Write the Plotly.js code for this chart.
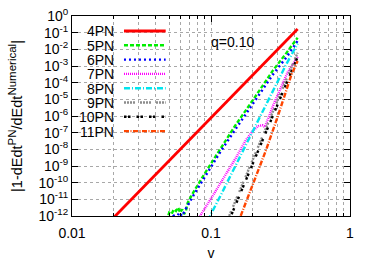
<!DOCTYPE html>
<html><head><meta charset="utf-8">
<script src="https://cdn.plot.ly/plotly-3.0.1.min.js"></script>
<style>html,body{margin:0;padding:0;background:#fff}#chart{width:376px;height:263px}</style>
</head><body><div id="chart"></div>
<script>
// ---- data ----
const seriesNames = ['4PN','5PN','6PN','7PN','8PN','9PN','10PN','11PN'];

const v4PN  = [0.01, 0.02, 0.04, 0.07, 0.1, 0.15, 0.2, 0.3, 0.42];
const err4PN = [2.2e-15, 8.3e-13, 3.1e-10, 3.7e-8, 7.8e-7, 2.5e-5, 3.0e-4, 9.3e-3, 0.166];

const v5PN  = [0.048, 0.05, 0.052, 0.054, 0.056, 0.058, 0.06, 0.062, 0.064, 0.066, 0.068, 0.075, 0.09, 0.12, 0.15, 0.2, 0.28, 0.35, 0.42];
const err5PN = [5.0e-13, 1.6e-12, 1.3e-12, 2.5e-12, 2.0e-12, 3.2e-12, 1.6e-12, 2.5e-12, 1.3e-12, 2.0e-12, 6.3e-12, 2.8e-11, 3.5e-10, 1.6e-8, 2.8e-7, 8.9e-6, 5.6e-4, 6.3e-3, 5.0e-2];

const v6PN  = [0.05, 0.053, 0.056, 0.059, 0.062, 0.066, 0.075, 0.09, 0.12, 0.15, 0.2, 0.28, 0.35, 0.42];
const err6PN = [4.0e-13, 1.3e-12, 6.3e-13, 1.6e-12, 1.0e-12, 2.8e-12, 1.8e-11, 2.2e-10, 1.0e-8, 1.6e-7, 5.0e-6, 3.2e-4, 3.5e-3, 3.2e-2];

const v7PN  = [0.08, 0.084, 0.1, 0.12, 0.15, 0.178, 0.2, 0.219, 0.234, 0.243, 0.251, 0.282, 0.316, 0.355, 0.42];
const err7PN = [3.2e-13, 1.1e-12, 1.1e-11, 1.3e-10, 2.8e-9, 3.5e-8, 1.3e-7, 2.5e-7, 2.8e-7, 2.2e-7, 4.0e-7, 5.0e-6, 5.0e-5, 4.0e-4, 3.5e-3];

const v8PN  = [0.095, 0.1, 0.12, 0.15, 0.2, 0.25, 0.3, 0.35, 0.42];
const err8PN = [5.0e-13, 1.3e-12, 2.5e-11, 1.0e-9, 1.3e-7, 5.0e-6, 1.1e-4, 1.4e-3, 2.2e-2];

const v9PN  = [0.13, 0.14, 0.16, 0.2, 0.25, 0.3, 0.35, 0.42];
const err9PN = [4.7e-13, 2.0e-12, 2.9e-11, 2.5e-9, 2.1e-7, 7.8e-6, 1.7e-4, 6.3e-3];

const v10PN  = [0.13, 0.14, 0.16, 0.2, 0.25, 0.3, 0.35, 0.42];
const err10PN = [2.6e-13, 1.1e-12, 1.6e-11, 1.4e-9, 1.2e-7, 4.4e-6, 9.5e-5, 3.5e-3];

const v11PN  = [0.155, 0.16, 0.17, 0.2, 0.25, 0.3, 0.33, 0.38, 0.42];
const err11PN = [3.2e-13, 6.3e-13, 2.5e-12, 7.9e-11, 1.0e-8, 7.9e-7, 1.0e-5, 3.2e-4, 2.0e-3];

const xTickVals = [0.01, 0.1, 1];
const xTickText = ['0.01', '0.1', '1'];
const xMinorVals = [0.02,0.03,0.04,0.05,0.06,0.07,0.08,0.09,0.2,0.3,0.4,0.5,0.6,0.7,0.8,0.9];
const yTickVals = [1e0,1e-1,1e-2,1e-3,1e-4,1e-5,1e-6,1e-7,1e-8,1e-9,1e-10,1e-11,1e-12];
const yTickText = ['10<sup>0</sup>','10<sup>-1</sup>','10<sup>-2</sup>','10<sup>-3</sup>','10<sup>-4</sup>','10<sup>-5</sup>','10<sup>-6</sup>','10<sup>-7</sup>','10<sup>-8</sup>','10<sup>-9</sup>','10<sup>-10</sup>','10<sup>-11</sup>','10<sup>-12</sup>'];
const yTitle = '|1-dEdt<sup><span style="font-size:11.5px">PN</span></sup>/dEdt<sup><span style="font-size:11.5px">Numerical</span></sup>|';
const annotationText = 'q=0.10';

// ---- styles ----
const xs = [v4PN, v5PN, v6PN, v7PN, v8PN, v9PN, v10PN, v11PN];
const ys = [err4PN, err5PN, err6PN, err7PN, err8PN, err9PN, err10PN, err11PN];
const colors = ['#ff0000','#00ee00','#0000ff','#ff00ff','#00e5ee','#8c8c8c','#000000','#ff4500'];
const dashes = ['solid','4px,2px','2px,3px','1px,1px','6px,2px,1px,2px','2px,1px,2px,1px,2px,1px,2px,5px','2.5px,1.5px,2.5px,6px','5px,1.5px,1px,1.5px'];
const widths = [2.8, 2.4, 2.4, 2.4, 2.4, 2.4, 2.4, 2.4];

const FONT = 'Liberation Sans, Arial, Helvetica, sans-serif';

const traces = seriesNames.map((n, i) => ({
  x: xs[i], y: ys[i], name: n, type: 'scatter', mode: 'lines',
  line: {color: colors[i], dash: dashes[i], width: widths[i]},
  showlegend: false, hoverinfo: 'skip'
}));

// manual gnuplot-style key: label first, then line sample
const keyTop = 0.925, keyStep = 0.0715;
const shapes = [], annotations = [];
seriesNames.forEach((n, i) => {
  const yy = keyTop - i * keyStep;
  annotations.push({xref:'paper', yref:'paper', x:0.155, y:yy, text:n, showarrow:false,
    xanchor:'right', yanchor:'middle', height:13, borderpad:0,
    font:{family:FONT, size:14, color:'#000'}});
  shapes.push({type:'line', xref:'paper', yref:'paper', x0:0.187, x1:0.337, y0:yy, y1:yy,
    line:{color:colors[i], dash:dashes[i], width:widths[i]}});
});
annotations.push({xref:'paper', yref:'paper', x:0.576, y:0.87, text:annotationText, showarrow:false,
  xanchor:'center', yanchor:'middle', borderpad:0, font:{family:FONT, size:14, color:'#000'}});

const gridStyle = {showgrid:true, gridcolor:'#a8a8a8', gridwidth:1, griddash:'dot'};

const layout = {
  width: 376, height: 263,
  margin: {l:72, r:26, t:16, b:47},
  paper_bgcolor:'#fff', plot_bgcolor:'#fff',
  font: {family: FONT, size: 14, color:'#000'},
  showlegend: false,
  xaxis: Object.assign({
    type:'log', range:[-2, 0], tickmode:'array', tickvals:xTickVals, ticktext:xTickText,
    ticks:'inside', ticklen:6, tickwidth:1, tickcolor:'#000',
    showline:true, linecolor:'#000', linewidth:1, mirror:'allticks', zeroline:false,
    tickfont:{family:FONT, size:14}, ticklabelstandoff: 4,
    title:{text:'v', font:{family:FONT, size:14}, standoff:8},
    minor:{tickmode:'array', tickvals:xMinorVals, ticks:'inside', ticklen:3, tickcolor:'#000',
      showgrid:true, gridcolor:'#a8a8a8', gridwidth:1, griddash:'dot'}
  }, gridStyle),
  yaxis: Object.assign({
    type:'log', range:[-12, 0], tickmode:'array', tickvals:yTickVals, ticktext:yTickText,
    ticks:'inside', ticklen:6, tickwidth:1, tickcolor:'#000',
    showline:true, linecolor:'#000', linewidth:1, mirror:'allticks', zeroline:false,
    tickfont:{family:FONT, size:14},
    title:{text:yTitle, font:{family:FONT, size:14.5}, standoff:12}
  }, gridStyle),
  shapes: shapes,
  annotations: annotations
};

Plotly.newPlot('chart', traces, layout, {staticPlot:true, displayModeBar:false});
</script>
</body></html>
